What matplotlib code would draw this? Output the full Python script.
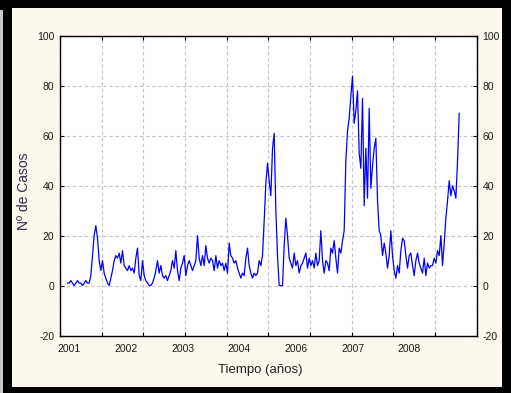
import numpy as np
import matplotlib
matplotlib.use('Agg')
import matplotlib.pyplot as plt
from matplotlib.patches import Rectangle
from matplotlib.ticker import MultipleLocator, FixedLocator

# casos semanales (serie 2001-2008)
casos = [1, 1, 2, 1, 0, 1, 2, 1, 1, 0, 1, 2, 1, 1,
         4, 12, 20, 24, 19, 10, 6, 10, 5, 3, 1, 0,
         3, 6, 10, 12, 11, 13, 9, 14, 8, 7, 6, 8, 6, 7, 5, 11, 15, 4, 2, 10, 4, 2, 1,
         0, 0, 1, 3, 6, 10, 5, 8, 4, 3, 4, 2, 4, 6, 10, 7, 14, 6, 2, 7, 9, 12, 4, 8,
         10, 8, 6, 8, 10, 20, 11, 8, 12, 8, 16, 11, 9, 11, 10, 6, 12, 7, 10, 8, 9, 6,
         9, 5, 17, 12,
         11, 9, 10, 7, 5, 3, 5, 4, 11, 15, 8, 5, 3, 5, 4, 5, 10, 8, 12, 26, 41, 49,
         42, 36, 55, 61, 30, 12, 0, 0, 0, 16, 27, 20, 11, 9, 7, 13, 8, 10, 5, 8, 9,
         11, 13, 7, 11,
         8, 10, 7, 13, 8, 10, 22, 10, 5, 10, 9, 6, 15, 13, 18, 11, 5, 15, 13, 18, 22,
         50, 62, 67, 76, 84, 65, 70, 78, 53, 47, 75, 32, 55, 35, 71, 39, 48, 55, 59,
         34, 22, 20, 12, 17, 13, 7, 12,
         22, 12, 6, 3, 8, 5, 14, 19, 18, 12, 7, 12, 13, 8, 4, 10, 13, 9, 7, 5, 11, 4,
         9, 7, 8, 8, 11, 9, 14, 12, 20, 8, 17, 27, 34, 42, 36, 40, 38, 35, 50, 69]
semana = 9 + 2 * np.arange(len(casos))

anios = ['2001', '2002', '2003', '2004', '2006', '2007', '2008']
pos_anios = [11, 79, 147, 215, 283, 351, 419]

plt.rcParams['font.family'] = ['Liberation Sans', 'DejaVu Sans']
plt.rcParams['axes.unicode_minus'] = False

W, H = 511, 393
fig = plt.figure(figsize=(W / 100, H / 100), dpi=100, facecolor='black')

# panel crema con marco negro
fig.patches.append(Rectangle((12 / W, 1 - 386.5 / H), 490 / W, 378.5 / H,
                             transform=fig.transFigure, facecolor='#fdf8ed',
                             edgecolor='none', zorder=-10))
fig.patches.append(Rectangle((0, 0), 3 / W, 1 - 10 / H, transform=fig.transFigure,
                             facecolor='#c8c8c8', edgecolor='none', zorder=-10))

ax = fig.add_axes([60 / W, 1 - 335.5 / H, 416.7 / W, 299.5 / H])
ax.set_facecolor('white')
ax.plot(semana, casos, color='#0000ff', lw=0.9)

ax.set_xlim(0, 500)
ax.set_ylim(-20, 100)
ax.xaxis.set_major_locator(FixedLocator(pos_anios))
ax.set_xticklabels(anios)
ax.xaxis.set_minor_locator(MultipleLocator(50))
ax.yaxis.set_major_locator(MultipleLocator(20))

ax.set_axisbelow(True)
ax.grid(which='minor', axis='x', color='#c4c4c4', lw=0.8, linestyle=(0, (3, 2.5)))
ax.grid(which='major', axis='y', color='#c4c4c4', lw=0.8, linestyle=(0, (3, 2.5)))

ax.tick_params(axis='x', which='major', length=0, pad=6, labelsize=7.5,
               labelcolor='#1a1a1a')
ax.tick_params(axis='x', which='minor', direction='in', length=3, top=True,
               bottom=True, width=0.8)
ax.tick_params(axis='y', direction='in', length=3, left=True, right=True,
               labelleft=True, labelright=True, labelsize=7.5, pad=4,
               labelcolor='#1a1a1a', width=0.8)
for s in ax.spines.values():
    s.set_linewidth(1.0)
    s.set_color('black')

fig.text(260 / W, 1 - 370 / H, 'Tiempo (años)', ha='center', va='center',
         fontsize=9.5, color='#222222')
fig.text(24 / W, 1 - 191 / H, 'Nº de Casos', ha='center', va='center',
         rotation=90, fontsize=10, color='#3a1f4d')

fig.savefig('out.png', dpi=100, facecolor=fig.get_facecolor())
